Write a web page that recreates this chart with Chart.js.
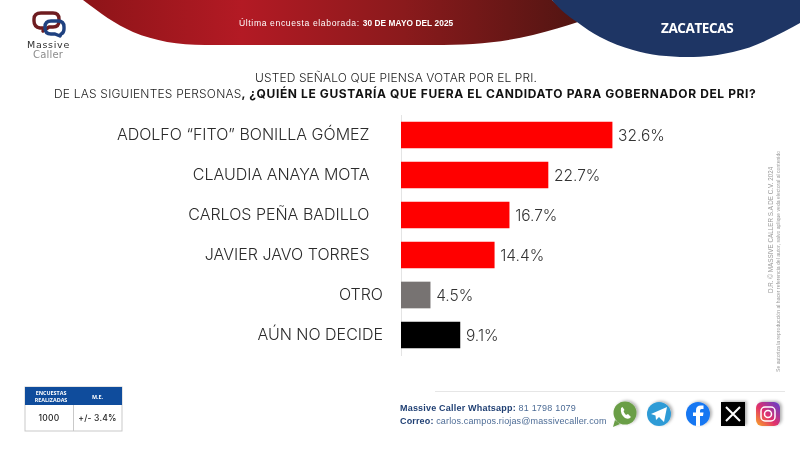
<!DOCTYPE html>
<html lang="es"><head><meta charset="utf-8">
<script src="https://cdn.jsdelivr.net/npm/chart.js@4"></script>
<style>
html,body{margin:0;padding:0;background:#fff;width:800px;height:450px;overflow:hidden}
#wrap{position:relative;width:800px;height:450px}
#c{position:absolute;left:0;top:0}
svg{position:absolute;left:0;top:0}
.t{position:absolute;white-space:nowrap;line-height:1}
</style></head><body>
<div id="wrap">
<svg width="800" height="450" viewBox="0 0 800 450">
<defs>
<linearGradient id="rg" x1="83" x2="578" y1="0" y2="0" gradientUnits="userSpaceOnUse">
<stop offset="0" stop-color="#8d1418"/><stop offset=".32" stop-color="#b31a24"/><stop offset=".65" stop-color="#8a1a1c"/><stop offset="1" stop-color="#521512"/></linearGradient>
<linearGradient id="ig" x1="0" y1="1" x2="1" y2="0"><stop offset="0" stop-color="#f9a825"/><stop offset=".45" stop-color="#e1306c"/><stop offset="1" stop-color="#5b3fd0"/></linearGradient>
<filter id="sh" x="-30%" y="-30%" width="170%" height="170%"><feDropShadow dx="2" dy="-1" stdDeviation="1.5" flood-color="#000" flood-opacity=".3"/></filter>
</defs>
<path d="M83 0C100 13 115 24 133 32C155 41 178 45 205 45L433 45C470 45 500 43 533 35C550 31 565 26 578 22L552 0Z" fill="url(#rg)"/>
<path d="M552 0C560 10 568 16 577 22C585 28 592 33 600 37C612 43 622 47 633 50C650 55 668 57 687 57C705 57 720 55 733 52C746 49 757 45 767 40C779 34 790 29 800 23L800 0Z" fill="#1e3564"/>
<g fill="none" stroke-width="3.4" stroke-linejoin="round">
<path d="M41 13H53Q59 13 59 19V21Q59 27 53 27H49L43 31L44 28H40Q34 27 34 21V19Q34 13 41 13Z" stroke="#6e1c20"/>
<path d="M51 21H58Q64 21 64 27V29Q64 33 61 34L60 36L55 34H51Q45 34 45 28V27Q45 21 51 21Z" stroke="#1f4180"/>
</g>
<rect x="25" y="387" width="97" height="44" fill="#fff" stroke="#c9c9c9"/>
<rect x="25" y="387" width="97" height="18" fill="#0f4c9c"/>
<line x1="73.5" y1="405" x2="73.5" y2="431" stroke="#c9c9c9"/>
<line x1="435" y1="391.5" x2="785" y2="391.5" stroke="#e6e6e6"/>
<g filter="url(#sh)">
<circle cx="625" cy="413" r="11.5" fill="#6b9e47"/><path d="M615 420L613 427L620 424Z" fill="#6b9e47"/>
<path d="M621 408Q620 414 625 418Q629 420 631 417L628 414L626 415Q624 413 623.500 411L624.500 410L622.500 407Z" fill="#fff"/>
<circle cx="659" cy="414" r="12" fill="#2f9bd6"/><path d="M651 414L667 407L664 422L659 417L656 420L655.500 415.500Z" fill="#fff"/>
<circle cx="698" cy="414" r="12" fill="#1877f2"/><path d="M696 426V416H693V412.500H696V410Q696 405.500 701 405.500H703.500V409H701.500Q700 409 700 410.500V412.500H703.500L703 416H700V426Z" fill="#fff"/>
<rect x="721" y="402" width="24" height="24" fill="#050505"/><path d="M726 407L740 421M740 407L726 421" stroke="#fff" stroke-width="2"/>
<rect x="756" y="402" width="24" height="24" rx="6" fill="url(#ig)"/><rect x="761" y="407" width="14" height="14" rx="4" fill="none" stroke="#fff" stroke-width="1.500"/><circle cx="768" cy="414" r="3.500" fill="none" stroke="#fff" stroke-width="1.500"/>
</g>
</svg>
<canvas id="c" width="800" height="450" style="width:800px;height:450px"></canvas>
<span class="t" style="left:27px;top:39px;font:400 9.5px 'DejaVu Sans';color:#2e2e2e;letter-spacing:.7px">Massive</span>
<span class="t" style="left:33px;top:49px;font:400 10px 'DejaVu Sans';color:#8c8c8c;letter-spacing:.2px">Caller</span>
<span class="t" style="left:239px;top:18px;font:400 8.6px 'Liberation Sans';color:#fff;letter-spacing:.62px">Última encuesta elaborada: <b style="font-size:8.3px;letter-spacing:.08px">30 DE MAYO DEL 2025</b></span>
<span class="t" style="left:661px;top:19px;font:700 13.500px 'Open Sans';color:#fff;letter-spacing:-.4px">ZACATECAS</span>
<span class="t" style="left:255px;top:70px;font:300 12px Inter;color:#222;letter-spacing:.12px">USTED SEÑALO QUE PIENSA VOTAR POR EL PRI.</span>
<span class="t" style="left:54px;top:86px;font:300 12px Inter;color:#222;letter-spacing:.2px">DE LAS SIGUIENTES PERSONAS<b style="font-weight:700;color:#111;letter-spacing:.62px">, ¿QUIÉN LE GUSTARÍA QUE FUERA EL CANDIDATO PARA GOBERNADOR DEL PRI?</b></span>
<span class="t" style="left:29px;top:390px;width:44px;text-align:center;font:700 5.400px/6.500px 'Open Sans';color:#fff;white-space:normal">ENCUESTAS REALIZADAS</span>
<span class="t" style="left:73px;top:393px;width:49px;text-align:center;font:700 5.400px 'Open Sans';color:#fff">M.E.</span>
<span class="t" style="left:25px;top:413px;width:48px;text-align:center;font:500 8.500px Inter;color:#222;letter-spacing:.3px">1000</span>
<span class="t" style="left:73px;top:413px;width:49px;text-align:center;font:500 8.500px Inter;color:#222;letter-spacing:.2px">+/- 3.4%</span>
<span class="t" style="left:400px;top:403px;font:400 9px 'Liberation Sans';color:#4d6c96;letter-spacing:.2px"><b style="font-weight:700;color:#1f3f73">Massive Caller Whatsapp:</b> 81 1798 1079</span>
<span class="t" style="left:400px;top:416px;font:400 9px 'Liberation Sans';color:#4d6c96;letter-spacing:.15px"><b style="font-weight:700;color:#1f3f73">Correo:</b> carlos.campos.riojas@massivecaller.com</span>
<span class="t" style="left:767px;top:293px;transform-origin:0 0;transform:rotate(-90deg);font:400 6.300px 'Liberation Sans';color:#9a9a9a">D.R. © MASSIVE CALLER S.A DE C.V. 2024</span>
<span class="t" style="left:775px;top:372px;transform-origin:0 0;transform:rotate(-90deg);font:400 5.100px 'Liberation Sans';color:#9a9a9a">Se autoriza la reproducción al hacer referencia del autor, salvo aplique veda electoral al contenido</span>
</div>
<script>
const categories = ['ADOLFO “FITO” BONILLA GÓMEZ','CLAUDIA ANAYA MOTA','CARLOS PEÑA BADILLO','JAVIER JAVO TORRES','OTRO','AÚN NO DECIDE'];
const values = [32.6,22.7,16.7,14.4,4.5,9.1];
const barColors = ['#ff0000','#ff0000','#ff0000','#ff0000','#777372','#000000'];
const candidateCount = 4;
const FONT = 'Inter';

const valueLabels = {
  id:'valueLabels',
  afterDatasetsDraw(chart){
    const ctx = chart.ctx, meta = chart.getDatasetMeta(0);
    ctx.save();
    ctx.font = '300 15.5px '+FONT; ctx.fillStyle='#333';
    ctx.textAlign='left'; ctx.textBaseline='middle';
    meta.data.forEach((bar,i)=>ctx.fillText(values[i].toFixed(1)+'%', bar.x+6, bar.y+1));
    ctx.restore();
  }
};
new Chart(document.getElementById('c'),{
  type:'bar',
  data:{labels:categories,datasets:[{data:values,backgroundColor:barColors,barThickness:26,borderWidth:0}]},
  plugins:[valueLabels],
  options:{
    indexAxis:'y',responsive:false,animation:false,devicePixelRatio:1,
    layout:{padding:{left:0,right:140,top:115,bottom:95}},
    plugins:{legend:{display:false},tooltip:{enabled:false},title:{display:false}},
    scales:{
      x:{display:false,min:0,max:40},
      y:{
        afterFit(s){s.width=401;},
        grid:{display:false,drawTicks:false},
        border:{color:'#e4e4e4',width:1},
        ticks:{
          padding:18,color:'#2b2b2b',font:{family:FONT,size:16,weight:'300'},autoSkip:false,
          callback(v,i){return categories[i]+(i<candidateCount?'\u00A0\u00A0\u00A0':'');}
        }
      }
    }
  }
});
</script>
</body></html>
